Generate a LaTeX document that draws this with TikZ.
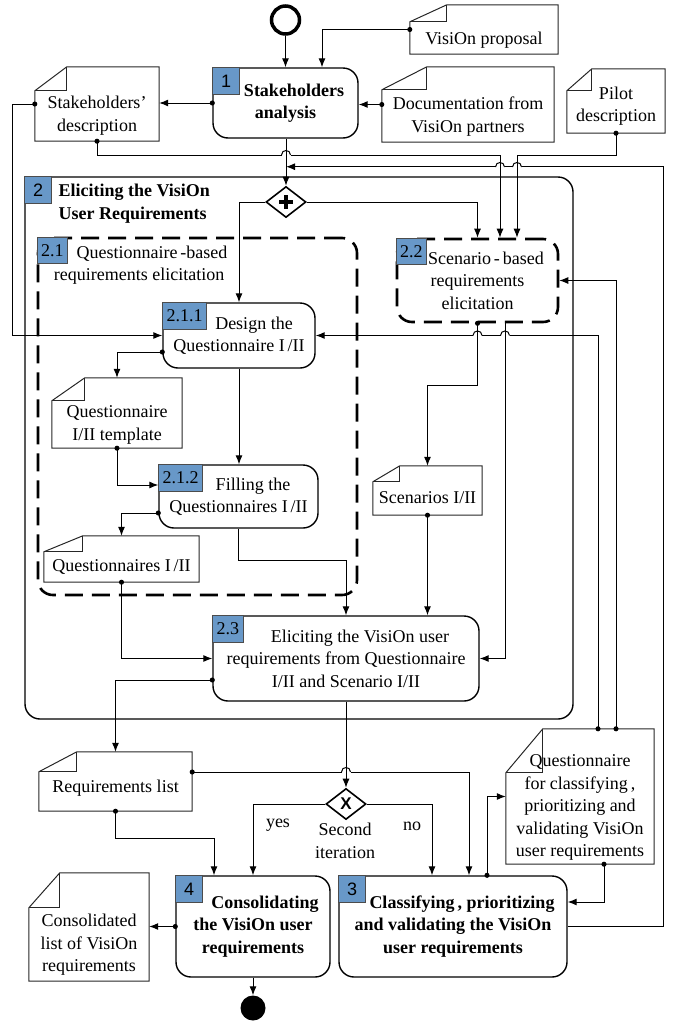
\documentclass[tikz,border=0pt]{standalone}
\usepackage{fontspec}
\setmainfont{Liberation Serif}
\setsansfont{Liberation Sans}
\usetikzlibrary{arrows.meta,calc,fit,shapes.geometric}
\definecolor{badgeblue}{RGB}{104,152,200}
\newcommand\bigfont{\fontsize{18}{22.5}\selectfont}
\tikzset{%
  task/.style={rectangle, draw=black, line width=1.4pt, rounded corners=15pt, align=center, inner sep=0pt},
  subproc/.style={task, line width=2.6pt, dash pattern=on 18pt off 9pt},
  badge/.style={rectangle, draw=black!70, line width=0.8pt, fill=badgeblue, anchor=north west, inner xsep=4pt, inner ysep=1pt, minimum width=27pt, minimum height=26.5pt},
  docbox/.style={rectangle, inner sep=0pt},
  docline/.style={draw=black!85, line width=1pt},
  doctext/.style={align=center, inner sep=0pt},
  gate/.style={diamond, draw=black, line width=1.6pt, fill=white, minimum width=40pt, minimum height=31pt, inner sep=0pt},
  startev/.style={circle, draw=black, line width=3.5pt, minimum size=28pt, inner sep=0pt},
  endev/.style={circle, fill=black, minimum size=25pt, inner sep=0pt},
  >={Latex[length=9pt,width=7pt]},
  flow/.style={draw=black, line width=1pt, ->},
  dotflow/.style={flow, {Circle[length=5pt]}->, shorten <=-2.5pt},
}
% document with a folded corner: name, x1, y1, x2, y2, fold x, fold y, text shift, text
\newcommand\docnode[9]{%
  \coordinate (#1-nw) at (#2,#3);
  \coordinate (#1-se) at (#4,#5);
  \node[docbox, fit=(#1-nw)(#1-se)] (#1) {};
  \draw[docline] ($(#1.north west)+(#6,0)$) -- (#1.north east) -- (#1.south east)
    -- (#1.south west) -- ($(#1.north west)+(0,#7)$) -- cycle;
  \draw[docline] ($(#1.north west)+(#6,0)$) |- ($(#1.north west)+(0,#7)$);
  \node[doctext] (#1-text) at ($(#1.center)+(0,#8)$) {#9};
}

\begin{document}
\begin{tikzpicture}[x=1pt, y=-1pt, font=\bigfont]
  \useasboundingbox (0,0) rectangle (677,1023);
  % start and end
  \node[startev] (start) at (285.5,20) {};
  \node[endev] (end) at (253,1008) {};
  % activities
  \node[task, font=\bigfont\bfseries, minimum width=145pt, minimum height=70pt] (t1) at (285.5,103) {\hspace*{17pt}Stakeholders\\analysis};
  \node[task, minimum width=548pt, minimum height=542pt] (c2) at (299,448) {};
  \node[anchor=west, align=left, font=\bigfont\bfseries] (c2-text) at (55,203.5) {Eliciting the VisiOn\\User Requirements};
  \node[subproc, minimum width=319pt, minimum height=357pt] (s21) at (197.5,416.5) {};
  \node[align=center] (s21-text) at (139,265) {\hspace*{26pt}Questionnaire\,-based\\requirements elicitation};
  \node[subproc, minimum width=161pt, minimum height=83pt] (s22) at (477.5,280.5) {\hspace*{17pt}Scenario\,-\,based\\requirements\\elicitation};
  \node[task, minimum width=152pt, minimum height=65pt] (t211) at (239,335.5) {\hspace*{30pt}Design the\\Questionnaire I\,/II};
  \node[task, minimum width=159pt, minimum height=63pt] (t212) at (238.5,496.5) {\hspace*{29pt}Filling the\\Questionnaires I\,/II};
  \node[task, minimum width=266pt, minimum height=85pt] (t23) at (346,658.5) {\hspace*{28pt}Eliciting the VisiOn user\\requirements from Questionnaire\\I/II and Scenario I/II};
  \node[task, font=\bigfont\bfseries, minimum width=228pt, minimum height=101pt] (t3) at (453,926.5) {\hspace*{18pt}Classifying\,, prioritizing\\and validating the VisiOn\\user requirements};
  \node[task, font=\bigfont\bfseries, minimum width=154pt, minimum height=101pt] (t4) at (253,926.5) {\hspace*{24pt}Consolidating\\the VisiOn user\\requirements};
  % numbers
  \node[badge, font=\bigfont\sffamily] (b1) at (t1.north west) {1};
  \node[badge, font=\bigfont\sffamily] (b2) at (c2.north west) {2};
  \node[badge] (b21) at (s21.north west) {2.1};
  \node[badge] (b22) at (s22.north west) {2.2};
  \node[badge] (b211) at (t211.north west) {2.1.1};
  \node[badge] (b212) at (t212.north west) {2.1.2};
  \node[badge] (b23) at (t23.north west) {2.3};
  \node[badge, font=\bigfont\sffamily] (b3) at (t3.north west) {3};
  \node[badge, font=\bigfont\sffamily] (b4) at (t4.north west) {4};
  % gateways
  \node[gate] (g1) at (286,202) {};
  \draw[line width=3.5pt] ($(g1.center)+(-7,0)$) -- ($(g1.center)+(7,0)$)
    ($(g1.center)+(0,-7)$) -- ($(g1.center)+(0,7)$);
  \node[gate, font=\fontsize{17}{17}\selectfont\bfseries\sffamily] (g2) at (346,804) {X};
  \node (yes) at (278,825) {yes};
  \node (no) at (412,826) {no};
  \node[align=center] (iter) at (345,841) {Second\\iteration};
  % documents
  \docnode{sd}{35}{67}{159}{141}{32}{24}{11.5}{Stakeholders'\\description}
  \docnode{vp}{410}{5}{558}{54}{37}{17}{10.5}{VisiOn proposal}
  \docnode{dp}{382}{67}{554}{142}{45}{23}{12}{Documentation from\\VisiOn partners}
  \docnode{pd}{567}{69}{665}{133}{25}{22}{5}{Pilot\\description}
  \docnode{qt}{52}{378}{182}{448}{33}{23}{12}{Questionnaire\\I/II template}
  \docnode{qs}{44}{536}{199}{582}{39}{16}{8}{Questionnaires I\,/II}
  \docnode{sc}{373}{466}{482}{515}{27}{16}{7.5}{Scenarios I/II}
  \docnode{rl}{39}{752}{192}{811}{38}{20}{6.5}{Requirements list}
  \docnode{cl}{29}{873}{149}{981}{31}{35}{18}{Consolidated\\list of VisiOn\\requirements}
  \docnode{qc}{506}{729}{654}{864}{37}{44}{11}{Questionnaire\\for classifying\,,\\prioritizing and\\validating VisiOn\\user requirements}
  % flows
  \draw[flow] (start) -- (start |- t1.north);
  \draw[dotflow] (vp.west) -| ($(t1.north)+(36.5,0)$);
  \draw[dotflow] (dp.west) -- (dp.west -| t1.east);
  \draw[dotflow] (t1.west) -- (t1.west -| sd.east);
  \draw[flow] (g1.north |- t1.south) -- (g1.north);
  \draw[dotflow] (sd.south) -- ++(0,14) -| ($(s22.north)+(22.5,0)$);
  \draw[dotflow] (pd.south) -- ++(0,22) -| ($(s22.north)+(39.5,0)$);
  \draw[flow] (t3.east) -- ++(96,0) |- ($(g1.north)+(0,-19)$);
  \draw[flow] (g1.west) -| (t211.north);
  \draw[flow] (g1.east) -| (s22.north);
  \draw[dotflow] (sd.west) -- ++(-22,0) |- (t211.west);
  \draw[dotflow] ($(qc.north)+(18,0)$) |- (t211.east);
  \draw[dotflow] ($(qc.north)+(36,0)$) |- (s22.east);
  \draw[dotflow] ($(t211.west)+(0,16.5)$) -| (qt.north);
  \draw[flow] (t211.south) -- (t211.south |- t212.north);
  \draw[dotflow] (qt.south) |- ($(t212.west)+(0,-11.5)$);
  \draw[dotflow] ($(t212.west)+(0,16.5)$) -| (qs.north);
  \draw[dotflow] (qs.south) |- (t23.west);
  \draw[flow] (t212.south) -- ++(0,32) -| (t23.north);
  \draw[dotflow] (s22.south) -- ++(0,62) -| (sc.north);
  \draw[dotflow] (sc.south) -- (sc.south |- t23.north);
  \draw[flow] ($(s22.south)+(27.5,0)$) |- (t23.east);
  \draw[dotflow] ($(t23.west)+(0,21.5)$) -| (rl.north);
  \draw[flow] (t23.south) -- (g2.north);
  \draw[dotflow] ($(rl.east)+(0,-9.5)$) -| ($(t3.north)+(16,0)$);
  \draw[dotflow] (rl.south) -- ++(0,27) -| ($(t4.north)+(-39,0)$);
  \draw[flow] (g2.west) -| (t4.north);
  \draw[flow] (g2.east) -| ($(t3.north)+(-21,0)$);
  \draw[dotflow] ($(t3.north)+(34,0)$) |- (qc.west);
  \draw[dotflow] ($(qc.south)+(24,0)$) |- ($(t3.east)+(0,-24.5)$);
  \draw[dotflow] (t4.west) -- (t4.west -| cl.east);
  \draw[flow] (t4.south) -- (end);
  % line jumps
  \foreach \hx/\hy in {286/155, 500/167, 517/167, 477.5/335.5, 505/335.5, 346/772}{
    \draw[white, line width=2.5pt] (\hx-4.5,\hy) -- (\hx+4.5,\hy);
    \draw[line width=1pt] (\hx,\hy-3) -- (\hx,\hy+3);
    \draw[line width=1pt] (\hx-4.5,\hy) .. controls (\hx-4.5,\hy-6) and (\hx+4.5,\hy-6) .. (\hx+4.5,\hy);
  }
\end{tikzpicture}
\end{document}
